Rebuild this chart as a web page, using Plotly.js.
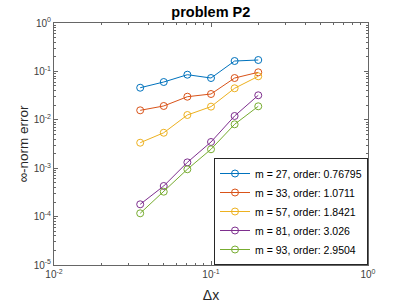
<!DOCTYPE html>
<html>
<head>
<meta charset="utf-8">
<script src="https://cdn.plot.ly/plotly-3.0.1.min.js"></script>
<style>html,body{margin:0;padding:0;background:#fff;}#chart{width:407px;height:305px;}</style>
</head>
<body>
<div id="chart"></div>
<script>
var dx = [0.0354, 0.05, 0.0707, 0.1, 0.1414, 0.2];
var seriesNames = ["m = 27, order: 0.76795", "m = 33, order: 1.0711", "m = 57, order: 1.8421", "m = 81, order: 3.026", "m = 93, order: 2.9504"];
var err27 = [0.046, 0.0604, 0.0855, 0.073, 0.164, 0.172];
var err33 = [0.0157, 0.0193, 0.030, 0.0341, 0.073, 0.0958];
var err57 = [0.00336, 0.0054, 0.01256, 0.0187, 0.0448, 0.0792];
var err81 = [0.0001795, 0.000429, 0.00132, 0.00348, 0.012, 0.0321];
var err93 = [0.000117, 0.000327, 0.00095, 0.00246, 0.00807, 0.019];
var xTickVals = [0.01, 0.1, 1];
var xTickText = ["10<sup>-2</sup>", "10<sup>-1</sup>", "10<sup>0</sup>"];
var yTickVals = [1e-5, 1e-4, 1e-3, 1e-2, 1e-1, 1];
var yTickText = ["10<sup>-5</sup>", "10<sup>-4</sup>", "10<sup>-3</sup>", "10<sup>-2</sup>", "10<sup>-1</sup>", "10<sup>0</sup>"];
var colors = ["#0072BD", "#D95319", "#EDB120", "#7E2F8E", "#77AC30"];
var allErr = [err27, err33, err57, err81, err93];

var traces = allErr.map(function(e, i){
  return {
    x: dx, y: e, name: seriesNames[i], type: 'scatter', mode: 'lines+markers',
    line: {color: colors[i], width: 1},
    marker: {symbol: 'circle-open', size: 7, color: colors[i], line: {width: 1, color: colors[i]}}
  };
});

var axColor = '#666';
var fam = 'Liberation Sans, Arial, sans-serif';
var layout = {
  width: 407, height: 305,
  margin: {l: 54, r: 39, t: 23, b: 40},
  paper_bgcolor: '#fff', plot_bgcolor: '#fff',
  font: {family: fam, size: 10, color: '#262626'},
  showlegend: true,
  title: {text: '<b>problem P2</b>', font: {family: fam, size: 14.5, color: '#000'}, x: 0.518, xanchor: 'center', y: 1 - 12/305, yanchor: 'middle', yref: 'container'},
  xaxis: {
    type: 'log', range: [-2, 0], tickmode: 'array', tickvals: xTickVals, ticktext: xTickText,
    ticks: 'inside', ticklen: 4, tickcolor: axColor, showline: true, linecolor: axColor, linewidth: 1, mirror: 'ticks',
    showgrid: false, zeroline: false, tickfont: {size: 10, color: '#404040'},
    minor: {dtick: 'D1', ticks: 'inside', ticklen: 2, tickcolor: axColor, showgrid: false},
    title: {text: 'Δx', font: {size: 14, color: '#262626'}, standoff: 11}
  },
  yaxis: {
    type: 'log', range: [-5, 0], tickmode: 'array', tickvals: yTickVals, ticktext: yTickText,
    ticks: 'inside', ticklen: 4, tickcolor: axColor, showline: true, linecolor: axColor, linewidth: 1, mirror: 'ticks',
    showgrid: false, zeroline: false, tickfont: {size: 10, color: '#404040'},
    minor: {dtick: 'D1', ticks: 'inside', ticklen: 2, tickcolor: axColor, showgrid: false},
    title: {text: '∞-norm error', font: {size: 13.5, color: '#262626'}, standoff: 1}
  },
  legend: {
    x: 1, y: 0, xanchor: 'right', yanchor: 'bottom', bgcolor: '#fff', bordercolor: '#262626', borderwidth: 1,
    font: {size: 10.5, color: '#000'}, tracegroupgap: 0, itemwidth: 30
  }
};
Plotly.newPlot('chart', traces, layout, {staticPlot: true, displayModeBar: false});
</script>
</body>
</html>
